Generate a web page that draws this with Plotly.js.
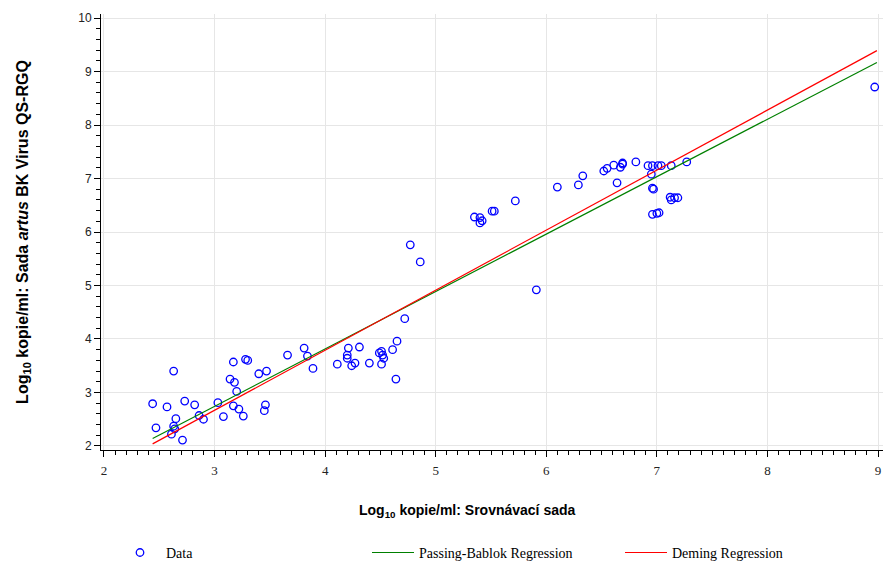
<!DOCTYPE html>
<html>
<head>
<meta charset="utf-8">
<script src="https://cdn.plot.ly/plotly-3.0.1.min.js"></script>
<style>html,body{margin:0;padding:0;background:#fff;}#chart{width:883px;height:562px;}</style>
</head>
<body>
<div id="chart"></div>
<script>
// Data points: comparison kit (x) vs artus BK Virus QS-RGQ kit (y), log10 copies/ml
const xData = [2.44,2.47,2.57,2.63,2.63,2.61,2.65,2.64,2.71,2.73,2.82,2.86,2.90,3.03,3.08,3.17,3.22,3.26,3.14,3.18,
  3.20,3.40,3.47,3.46,3.45,3.17,3.28,3.30,3.66,3.81,3.84,3.89,4.11,4.72,4.65,4.61,4.31,4.21,4.20,4.20,
  4.24,4.27,4.40,4.49,4.51,4.52,4.53,4.51,4.64,4.77,4.86,5.72,5.35,5.40,5.42,5.40,5.51,5.53,5.91,6.10,
  6.29,6.33,6.52,6.55,6.61,6.67,6.69,6.64,6.81,6.92,6.96,7.01,7.04,7.13,7.27,6.95,6.96,6.97,7.12,7.13,
  7.16,7.19,6.96,7.00,7.02,8.97,6.69];
const yData = [2.79,2.34,2.73,3.40,2.37,2.22,2.51,2.32,2.11,2.84,2.77,2.57,2.50,2.81,2.55,2.75,2.69,2.56,3.25,3.19,
  3.02,3.35,3.40,2.77,2.66,3.57,3.62,3.60,3.70,3.83,3.68,3.45,3.53,4.38,3.96,3.80,3.85,3.83,3.70,3.64,
  3.50,3.55,3.55,3.74,3.77,3.70,3.64,3.53,3.25,5.76,5.44,6.58,6.28,6.27,6.21,6.17,6.39,6.39,4.92,6.84,
  6.88,7.05,7.14,7.19,7.25,7.21,7.27,6.92,7.31,7.24,7.24,7.24,7.24,7.24,7.31,7.08,6.82,6.80,6.65,6.60,
  6.64,6.64,6.33,6.35,6.36,8.71,7.29];

// Regression line endpoints
const pbX = [2.44, 8.99];
const pbY = [2.14, 9.17];
const demX = [2.44, 8.99];
const demY = [2.04, 9.39];

const traces = [
  {x: xData, y: yData, type: 'scatter', mode: 'markers', name: 'Data',
   marker: {symbol: 'circle-open', size: 7.5, color: '#0000FF', line: {width: 1.3, color: '#0000FF'}}},
  {x: pbX, y: pbY, type: 'scatter', mode: 'lines', name: 'Passing-Bablok Regression',
   line: {color: '#008000', width: 1.2}},
  {x: demX, y: demY, type: 'scatter', mode: 'lines', name: 'Deming Regression',
   line: {color: '#FF0000', width: 1.2}}
];

const layout = {
  width: 883, height: 562,
  margin: {l: 101, r: 0, t: 14, b: 112, autoexpand: false},
  paper_bgcolor: '#ffffff', plot_bgcolor: '#ffffff',
  showlegend: true,
  xaxis: {
    range: [1.973, 9.045], tickmode: 'linear', tick0: 2, dtick: 1,
    showgrid: true, gridcolor: '#e6e6e6', gridwidth: 1,
    zeroline: false, showline: true, linecolor: '#000', linewidth: 1,
    ticks: 'outside', ticklen: 6, tickcolor: '#000', tickwidth: 1, ticklabelstandoff: 2,
    minor: {tick0: 2, dtick: 0.1, ticks: 'outside', ticklen: 4, tickcolor: '#000', tickwidth: 1, showgrid: false},
    tickfont: {family: 'Liberation Serif, serif', size: 13, color: '#222'}
  },
  yaxis: {
    range: [1.925, 10.075], tickmode: 'linear', tick0: 2, dtick: 1,
    showgrid: true, gridcolor: '#e6e6e6', gridwidth: 1,
    zeroline: false, showline: true, linecolor: '#000', linewidth: 1,
    ticks: 'outside', ticklen: 6, tickcolor: '#000', tickwidth: 1,
    minor: {tick0: 2, dtick: 0.2, ticks: 'outside', ticklen: 4, tickcolor: '#000', tickwidth: 1, showgrid: false},
    tickfont: {family: 'Liberation Sans, Arial, sans-serif', size: 12, color: '#222'},
    title: {text: 'Log<sub>10</sub> kopie/ml: Sada <i>artus</i> BK Virus QS-RGQ',
            font: {family: 'Liberation Sans, Arial, sans-serif', size: 16, color: '#000', weight: 'bold'},
            standoff: 45}
  },
  annotations: [
    {text: '<b>Log<sub>10</sub> kopie/ml: Srovnávací sada</b>', xref: 'paper', yref: 'paper',
     x: (467 - 101) / 782, y: -0.140, xanchor: 'center', yanchor: 'middle', showarrow: false,
     font: {family: 'Liberation Sans, Arial, sans-serif', size: 14, color: '#000'}}
  ],
  legend: {
    orientation: 'h', x: (114 - 101) / 782, xanchor: 'left', y: -0.236, yanchor: 'middle',
    entrywidth: 196, entrywidthmode: 'pixels', itemwidth: 42,
    font: {family: 'Liberation Serif, serif', size: 14, color: '#000'},
    bgcolor: 'rgba(0,0,0,0)'
  }
};

Plotly.newPlot('chart', traces, layout, {displayModeBar: false, staticPlot: true});
</script>
</body>
</html>
